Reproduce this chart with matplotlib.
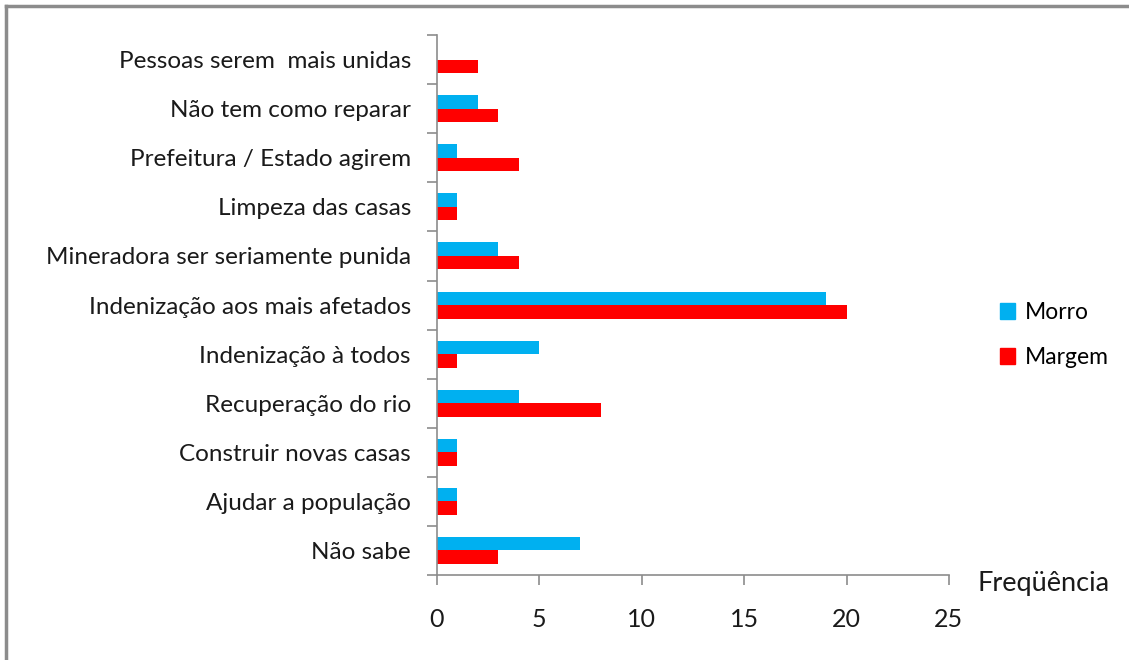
import matplotlib.pyplot as plt
from matplotlib.patches import Patch
from matplotlib.lines import Line2D

# categorias de cima para baixo
categorias = [
    'Pessoas serem  mais unidas',
    'Não tem como reparar',
    'Prefeitura / Estado agirem',
    'Limpeza das casas',
    'Mineradora ser seriamente punida',
    'Indenização aos mais afetados',
    'Indenização à todos',
    'Recuperação do rio',
    'Construir novas casas',
    'Ajudar a população',
    'Não sabe',
]
morro = [0, 2, 1, 1, 3, 19, 5, 4, 1, 1, 7]
margem = [2, 3, 4, 1, 4, 20, 1, 8, 1, 1, 3]
x_ticks = [0, 5, 10, 15, 20, 25]

azul = '#00B0F0'
vermelho = '#FF0000'
cinza = '#8C8C8C'

plt.rcParams['font.family'] = ['Lato', 'DejaVu Sans']

fig = plt.figure(figsize=(11.29, 6.6), dpi=100)
ax = fig.add_axes([0.387, 0.1288, 0.4535, 0.818])

n = len(categorias)
pos = [n - 1 - i for i in range(n)]
h = 0.275
ax.barh([p + h / 2 for p in pos], morro, height=h, color=azul, label='Morro')
ax.barh([p - h / 2 for p in pos], margem, height=h, color=vermelho, label='Margem')

ax.set_xlim(0, 25)
ax.set_ylim(-0.5, n - 0.5)
ax.set_xticks(x_ticks)
ax.set_yticks(pos)
ax.set_yticklabels(categorias, fontsize=17.5, color='#1a1a1a')
ax.set_yticks([i - 0.5 for i in range(n + 1)], minor=True)
ax.tick_params(axis='y', which='major', length=0, pad=18.7)
ax.tick_params(axis='y', which='minor', length=7, color=cinza, width=1.2)
ax.tick_params(axis='x', length=7, color=cinza, width=1.2, pad=17,
               labelsize=18, labelcolor='#1a1a1a')

for s in ['top', 'right']:
    ax.spines[s].set_visible(False)
for s in ['left', 'bottom']:
    ax.spines[s].set_color(cinza)
    ax.spines[s].set_linewidth(1.2)

fig.text(977 / 1129, 1 - 583 / 660, 'Freqüência', fontsize=19.5,
         color='#1a1a1a', ha='left', va='center')

handles = [Patch(color=azul), Patch(color=vermelho)]
fig.legend(handles, ['Morro', 'Margem'], loc='center left',
           bbox_to_anchor=(1000 / 1129, 1 - 335 / 660), frameon=False,
           fontsize=16.5, handlelength=0.65, handleheight=0.65,
           handletextpad=0.45, labelspacing=1.05, borderpad=0,
           borderaxespad=0)

# moldura da figura (só aparecem a esquerda e em cima)
fig.add_artist(Line2D([6 / 1129, 6 / 1129], [0, 1 - 6 / 660],
                      transform=fig.transFigure, color=cinza, lw=2.5))
fig.add_artist(Line2D([6 / 1129, 1], [1 - 6 / 660, 1 - 6 / 660],
                      transform=fig.transFigure, color=cinza, lw=2.5))

fig.savefig('out.png', dpi=100)
